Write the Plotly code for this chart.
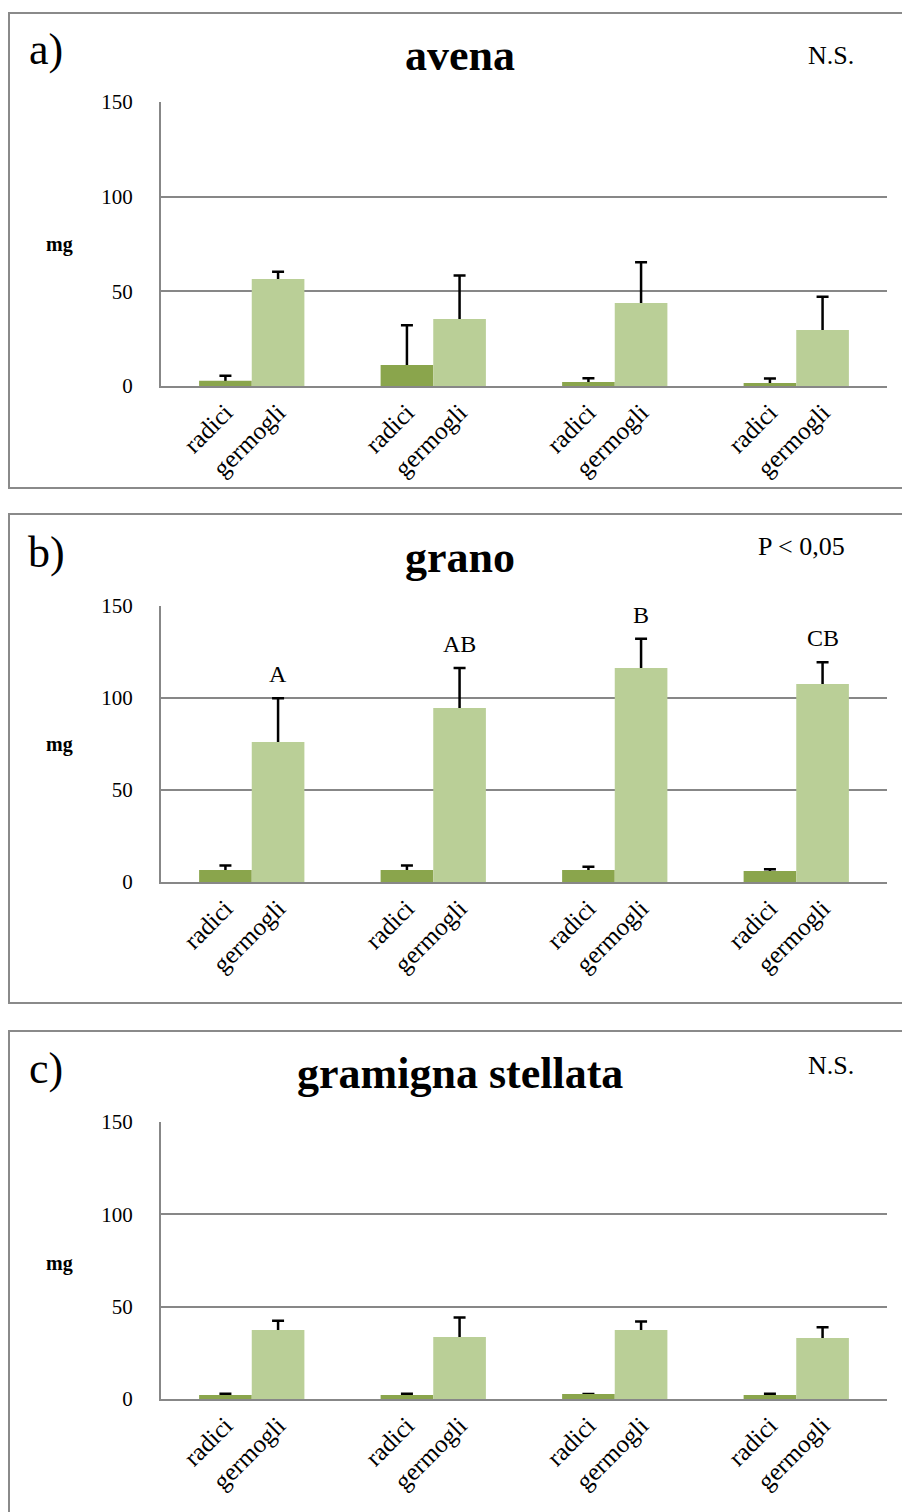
import plotly.graph_objects as go

W, H = 902, 1512

# ---- data ----
groups = [0, 1, 2, 3]
parts = ["radici", "germogli"]

avena_radici = [2.8, 11.1, 2.1, 1.6]
avena_radici_err = [2.6, 21.0, 2.0, 2.4]
avena_germogli = [56.5, 35.4, 43.8, 29.6]
avena_germogli_err = [3.9, 23.0, 21.5, 17.6]

grano_radici = [6.5, 6.5, 6.5, 6.0]
grano_radici_err = [2.4, 2.4, 1.8, 0.9]
grano_germogli = [76.1, 94.6, 116.3, 107.6]
grano_germogli_err = [23.7, 21.7, 15.9, 11.8]
grano_letters = ["A", "AB", "B", "CB"]

gram_radici = [2.2, 2.2, 2.7, 2.2]
gram_radici_err = [0.7, 0.7, 0.0, 0.7]
gram_germogli = [37.4, 33.6, 37.4, 33.0]
gram_germogli_err = [5.0, 10.6, 4.5, 5.8]

y_ticks = [0, 50, 100, 150]

panels = [
    dict(letter="a)", title="avena", stat="N.S.",
         rad=avena_radici, rad_err=avena_radici_err,
         ger=avena_germogli, ger_err=avena_germogli_err, letters=None),
    dict(letter="b)", title="grano", stat="P < 0,05",
         rad=grano_radici, rad_err=grano_radici_err,
         ger=grano_germogli, ger_err=grano_germogli_err, letters=grano_letters),
    dict(letter="c)", title="gramigna stellata", stat="N.S.",
         rad=gram_radici, rad_err=gram_radici_err,
         ger=gram_germogli, ger_err=gram_germogli_err, letters=None),
]

# ---- layout geometry (pixels) ----
plot_x0, plot_x1 = 161, 887
plot_y = [(102, 386), (606, 882), (1122, 1399)]
boxes = [(13, 488), (514, 1003), (1031, 1530)]
letter_y = [50, 552, 1068]
title_y = [55, 557, 1073]
stat_pos = [(831, 56), (801, 546), (831, 1065)]
mg_y = [245, 745, 1263]

COL_RAD = "#8AA54C"
COL_GER = "#BACF97"
SERIF = "Liberation Serif, Times New Roman, serif"
BW = 0.29

def px(x):
    return x / W

def py(y):
    return 1 - y / H

fig = go.Figure()
annotations = []
shapes = []

def ann(text, x, y, size, **kw):
    d = dict(text=text, x=x, y=y, xref="paper", yref="paper", showarrow=False,
             xanchor="center", yanchor="middle",
             font=dict(family=SERIF, size=size, color="black"))
    d.update(kw)
    return d

def add_series(vals, errs, color, offset, xa, ya):
    # transparent carrier for the error bars, drawn first so the bar covers the lower half
    fig.add_trace(go.Bar(
        x=groups, y=vals, width=BW, offset=offset, marker_color="rgba(0,0,0,0)",
        marker_line_width=0, xaxis=xa, yaxis=ya, showlegend=False, hoverinfo="skip",
        error_y=dict(type="data", array=errs, color="black", thickness=2.5, width=6),
    ))
    fig.add_trace(go.Bar(
        x=groups, y=vals, width=BW, offset=offset, marker_color=color,
        marker_line_width=0, xaxis=xa, yaxis=ya, showlegend=False,
    ))

for i, p in enumerate(panels):
    n = "" if i == 0 else str(i + 1)
    xa, ya = "x" + n, "y" + n
    add_series(p["rad"], p["rad_err"], COL_RAD, -BW, xa, ya)
    add_series(p["ger"], p["ger_err"], COL_GER, 0, xa, ya)
    y0, y1 = plot_y[i]
    tickvals, ticktext = [], []
    for g in groups:
        tickvals += [g - BW / 2, g + BW / 2]
        ticktext += parts
    fig.layout["xaxis" + n] = dict(
        domain=[px(plot_x0), px(plot_x1)], range=[-0.5, 3.5], anchor=ya,
        tickvals=tickvals, ticktext=ticktext, tickangle=-45,
        tickfont=dict(family=SERIF, size=25, color="black"),
        showgrid=False, showline=True, linecolor="#878787", linewidth=2,
        ticks="", zeroline=False, fixedrange=True, automargin=False,
    )
    fig.layout["yaxis" + n] = dict(
        domain=[py(y1), py(y0)], range=[0, 150], anchor=xa,
        tickvals=y_ticks, tickfont=dict(family=SERIF, size=21, color="black"),
        showgrid=True, gridcolor="#878787", gridwidth=1.5,
        showline=True, linecolor="#878787", linewidth=2,
        ticks="", ticklabelstandoff=22, zeroline=False, fixedrange=True,
        automargin=False,
    )
    # panel box
    b0, b1 = boxes[i]
    shapes.append(dict(type="rect", xref="paper", yref="paper",
                       x0=px(9), x1=px(912), y0=py(b1), y1=py(b0),
                       line=dict(color="#8a8a8a", width=2), fillcolor="rgba(0,0,0,0)"))
    annotations.append(ann(p["letter"], px(46), py(letter_y[i]), 44))
    annotations.append(ann("<b>" + p["title"] + "</b>", px(460), py(title_y[i]), 44))
    sx, sy = stat_pos[i]
    annotations.append(ann(p["stat"], px(sx), py(sy), 26))
    annotations.append(ann("<b>mg</b>", px(60), py(mg_y[i]), 20))
    if p["letters"]:
        for g, lab, v, e in zip(groups, p["letters"], p["ger"], p["ger_err"]):
            annotations.append(dict(text=lab, x=g + BW / 2, y=v + e, xref=xa, yref=ya,
                                    xanchor="center", yanchor="bottom", yshift=9,
                                    showarrow=False,
                                    font=dict(family=SERIF, size=24, color="black")))

fig.update_layout(
    width=W, height=H, margin=dict(l=0, r=0, t=0, b=0, autoexpand=False),
    paper_bgcolor="white", plot_bgcolor="white",
    barmode="overlay", annotations=annotations, shapes=shapes,
)

fig.write_html("out.html")
